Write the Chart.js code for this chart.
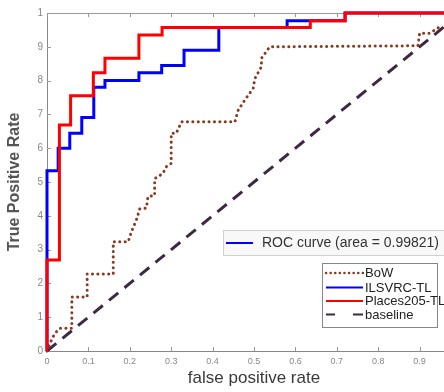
<!DOCTYPE html>
<html>
<head>
<meta charset="utf-8">
<script src="https://cdn.jsdelivr.net/npm/chart.js@4/dist/chart.umd.min.js"></script>
<style>
  html, body { margin: 0; padding: 0; background: #fff; }
  #wrap { width: 444px; height: 392px; overflow: hidden; position: relative; }
  #inner { width: 472px; height: 392px; position: absolute; left: 0; top: 0; }
</style>
</head>
<body>
<div id="wrap"><div id="inner"><canvas id="rocChart"></canvas></div></div>
<script>
// tick labels (matlab style: 0.9 shown as "9")
const xTickLabels = ['0', '0.1', '0.2', '0.3', '0.4', '0.5', '0.6', '0.7', '0.8', '0.9', '1']
const yTickLabels = ['0', '1', '2', '3', '4', '5', '6', '7', '8', '9', '1']

const seriesNames = ['BoW', 'ILSVRC-TL', 'Places205-TL', 'baseline']
const rocLabel = 'ROC curve (area = 0.99821)'

// BoW (dotted)
const bowFpr = [0, 0.007, 0.019, 0.031, 0.06, 0.06, 0.097, 0.097, 0.16, 0.16, 0.196, 0.204, 0.216, 0.224, 0.24, 0.244,
  0.26, 0.26, 0.28, 0.288, 0.30, 0.30, 0.312, 0.325, 0.454, 0.462, 0.478, 0.498, 0.502, 0.518, 0.518, 0.538,
  0.896, 0.90, 0.924, 0.95]
const bowTpr = [0, 0.023, 0.052, 0.067, 0.067, 0.16, 0.16, 0.228, 0.228, 0.323, 0.323, 0.353, 0.388, 0.42, 0.423, 0.457,
  0.46, 0.51, 0.525, 0.545, 0.555, 0.644, 0.644, 0.678, 0.678, 0.713, 0.743, 0.777, 0.806, 0.841, 0.866, 0.90,
  0.903, 0.94, 0.94, 0.96]

// ILSVRC-TL (step)
const ilsvrcFpr = [0, 0, 0.027, 0.055, 0.084, 0.113, 0.14, 0.222, 0.277, 0.331, 0.415, 0.58, 0.72, 1]
const ilsvrcTpr = [0, 0.533, 0.60, 0.644, 0.691, 0.78, 0.80, 0.823, 0.845, 0.89, 0.957, 0.977, 1, 1]

// Places205-TL (step)
const placesFpr = [0, 0, 0.03, 0.057, 0.112, 0.14, 0.222, 0.278, 0.636, 0.72, 1]
const placesTpr = [0, 0.269, 0.669, 0.755, 0.823, 0.866, 0.935, 0.957, 0.977, 1, 1]

// baseline
const baseFpr = [0, 1]
const baseTpr = [0, 1]

const toPts = (xs, ys) => xs.map((x, i) => ({ x: x, y: ys[i] }))

const colors = ['#8a3a20', '#0000ff', '#ff0000', '#3d2a42']
const dashes = [[0.1, 5.3], [], [], [12, 8]]

const extras = {
  id: 'extras',
  beforeDatasetsDraw(chart) {
    const { ctx, chartArea } = chart
    ctx.save()
    ctx.strokeStyle = '#999'
    ctx.lineWidth = 1
    ctx.beginPath()
    ctx.moveTo(chartArea.left, chartArea.top + 0.5)
    ctx.lineTo(chartArea.right, chartArea.top + 0.5)
    ctx.stroke()
    // inward ticks
    const xs = chart.scales.x
    const ys = chart.scales.y
    ctx.beginPath()
    xs.ticks.forEach((t) => {
      const px = Math.round(xs.getPixelForValue(t.value)) + 0.5
      ctx.moveTo(px, chartArea.bottom)
      ctx.lineTo(px, chartArea.bottom - 4)
      ctx.moveTo(px, chartArea.top)
      ctx.lineTo(px, chartArea.top + 4)
    })
    ys.ticks.forEach((t) => {
      const py = Math.round(ys.getPixelForValue(t.value)) + 0.5
      ctx.moveTo(chartArea.left, py)
      ctx.lineTo(chartArea.left + 4, py)
    })
    ctx.stroke()
    ctx.restore()
  },
  afterDraw(chart) {
    const { ctx } = chart
    ctx.save()
    // ROC box
    ctx.fillStyle = '#f8f8f8'
    ctx.strokeStyle = '#cfcfcf'
    ctx.lineWidth = 1
    ctx.fillRect(223.5, 230.5, 240, 25)
    ctx.strokeRect(223.5, 230.5, 240, 25)
    ctx.strokeStyle = colors[1]
    ctx.lineWidth = 2
    ctx.beginPath()
    ctx.moveTo(226, 243)
    ctx.lineTo(253, 243)
    ctx.stroke()
    ctx.fillStyle = '#333'
    ctx.font = '14px "Liberation Sans", Arial, sans-serif'
    ctx.textBaseline = 'middle'
    ctx.fillText(rocLabel, 262, 243)

    // series legend
    ctx.fillStyle = '#fff'
    ctx.strokeStyle = '#888'
    ctx.lineWidth = 1
    ctx.fillRect(322.5, 263.5, 115, 64)
    ctx.strokeRect(322.5, 263.5, 115, 64)
    const rows = [273, 287.5, 301, 314.5]
    ctx.font = '13px "Liberation Sans", Arial, sans-serif'
    seriesNames.forEach((name, i) => {
      ctx.strokeStyle = colors[i]
      ctx.lineWidth = i === 0 ? 2.5 : 2
      ctx.lineCap = i === 0 ? 'round' : 'butt'
      ctx.setLineDash(i === 0 ? [0.1, 4.5] : (i === 3 ? [9, 18, 10] : []))
      ctx.beginPath()
      ctx.moveTo(326, rows[i])
      ctx.lineTo(363, rows[i])
      ctx.stroke()
      ctx.setLineDash([])
      ctx.fillStyle = '#222'
      ctx.fillText(name, 365, rows[i] + 0.5)
    })
    ctx.restore()
  }
}

const ctx = document.getElementById('rocChart').getContext('2d')

const rocChart = new Chart(ctx, {
  type: 'line',
  data: {
    datasets: [
      {
        label: seriesNames[0],
        data: toPts(bowFpr, bowTpr),
        borderColor: colors[0],
        borderWidth: 3,
        borderDash: dashes[0],
        borderCapStyle: 'round',
        pointRadius: 0,
        clip: false,
        order: 2
      },
      {
        label: seriesNames[1],
        data: toPts(ilsvrcFpr, ilsvrcTpr),
        borderColor: colors[1],
        borderWidth: 3,
        stepped: 'before',
        pointRadius: 0,
        clip: false,
        order: 1
      },
      {
        label: seriesNames[2],
        data: toPts(placesFpr, placesTpr),
        borderColor: colors[2],
        borderWidth: 3,
        stepped: 'before',
        pointRadius: 0,
        clip: false,
        order: 0
      },
      {
        label: seriesNames[3],
        data: toPts(baseFpr, baseTpr),
        borderColor: colors[3],
        borderWidth: 3,
        borderDash: dashes[3],
        pointRadius: 0,
        clip: false,
        order: 3
      }
    ]
  },
  options: {
    responsive: true,
    maintainAspectRatio: false,
    animation: false,
    layout: { padding: { left: 0, top: 13, right: 11, bottom: 0 } },
    scales: {
      x: {
        type: 'linear',
        min: 0,
        max: 1,
        afterFit: (s) => { s.height = 41 },
        grid: { display: false, drawTicks: false },
        border: { display: true, color: '#888' },
        ticks: {
          stepSize: 0.1,
          padding: 5,
          color: '#888',
          font: { family: '"Liberation Sans", Arial, sans-serif', size: 9 },
          maxRotation: 0,
          callback: (v, i) => xTickLabels[i]
        },
        title: {
          display: true,
          text: 'false positive rate',
          color: '#3a3a3a',
          font: { family: '"Liberation Sans", Arial, sans-serif', size: 17 },
          padding: { top: 0, bottom: 3 }
        }
      },
      y: {
        type: 'linear',
        min: 0,
        max: 1,
        afterFit: (s) => { s.width = 47 },
        grid: { display: false, drawTicks: false },
        border: { display: true, color: '#888' },
        ticks: {
          stepSize: 0.1,
          padding: 4,
          color: '#888',
          font: { family: '"Liberation Sans", Arial, sans-serif', size: 10 },
          callback: (v, i) => yTickLabels[i]
        },
        title: {
          display: true,
          text: 'True Positive Rate',
          color: '#555',
          font: { family: '"Liberation Sans", Arial, sans-serif', size: 16, weight: 'bold' },
          padding: { top: 5, bottom: 0 }
        }
      }
    },
    plugins: {
      legend: { display: false },
      tooltip: { enabled: false }
    }
  },
  plugins: [extras]
})
</script>
</body>
</html>
